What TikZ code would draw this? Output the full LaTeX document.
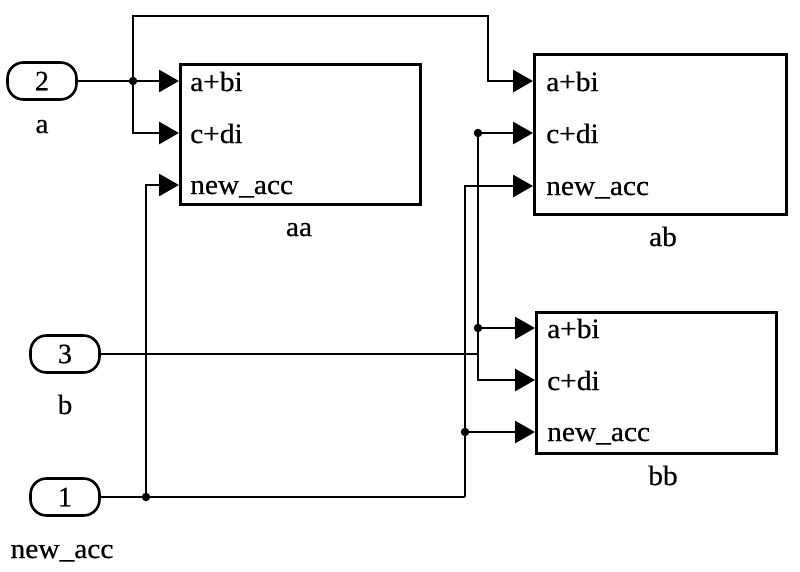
\documentclass[tikz,border=0pt]{standalone}
\usepackage{fontspec}
\setmainfont{Liberation Serif}
\newfontfamily\diagfont{Liberation Serif}[FakeBold=0.5]
\usetikzlibrary{arrows.meta}
\begin{document}
\begin{tikzpicture}[x=1pt,y=-1pt,
  lbl/.style={font=\diagfont\fontsize{28}{33}\selectfont, inner sep=0pt, xscale=1.05},
  block/.style={draw, line width=3pt, anchor=north west, inner sep=0pt},
  inport/.style={draw, line width=2.6pt, rounded corners=16pt, minimum width=69pt, minimum height=37pt, inner sep=0pt, font=\diagfont\fontsize{28}{33}\selectfont},
  wire/.style={line width=2.9pt},
  sig/.style={wire, -{Triangle[length=20pt,width=22pt]}},
  dot/.style={circle, fill, inner sep=0pt, minimum size=8.5pt}
]
\useasboundingbox (0,0) rectangle (800,571);
% blocks
\node[block, minimum width=240pt, minimum height=140pt] (aa) at (179,63) {};
\node[block, minimum width=252pt, minimum height=160pt] (ab) at (533,53) {};
\node[block, minimum width=240pt, minimum height=141pt] (bb) at (535,311) {};
% port coordinates
\coordinate (aa1) at (179,81);
\coordinate (aa2) at (179,133);
\coordinate (aa3) at (179,185);
\coordinate (ab1) at (533,81);
\coordinate (ab2) at (533,133);
\coordinate (ab3) at (533,186);
\coordinate (bb1) at (535,328);
\coordinate (bb2) at (535,380);
\coordinate (bb3) at (535,432);
% port labels
\node[lbl, anchor=base west] (aat1) at (190,91) {a+bi};
\node[lbl, anchor=base west] (aat2) at (190,143) {c+di};
\node[lbl, anchor=base west] (aat3) at (190,194) {new\_acc};
\node[lbl, anchor=base west] (abt1) at (546,91) {a+bi};
\node[lbl, anchor=base west] (abt2) at (546,143) {c+di};
\node[lbl, anchor=base west] (abt3) at (546,195) {new\_acc};
\node[lbl, anchor=base west] (bbt1) at (547,338) {a+bi};
\node[lbl, anchor=base west] (bbt2) at (547,390) {c+di};
\node[lbl, anchor=base west] (bbt3) at (547,441) {new\_acc};
% block names
\node[lbl, anchor=base] (aan) at (299,236) {aa};
\node[lbl, anchor=base] (abn) at (663,246) {ab};
\node[lbl, anchor=base] (bbn) at (663,485) {bb};
% inports
\node[inport] (in2) at (42,81) {2};
\node[inport] (in3) at (65,354) {3};
\node[inport] (in1) at (65,497) {1};
\node[lbl, anchor=base] (in2n) at (42,133) {a};
\node[lbl, anchor=base] (in3n) at (65,414) {b};
\node[lbl, anchor=base] (in1n) at (62,558) {new\_acc};
% junctions
\coordinate (j1) at (133,81);
\coordinate (t2) at (488,16);
\coordinate (j3) at (478,354);
\coordinate (j4) at (478,133);
\coordinate (j5) at (478,328);
\coordinate (j6) at (146,497);
\coordinate (j7) at (465,497);
\coordinate (j8) at (465,432);
% wires from inport 2
\draw[wire] (in2.east) -- (j1);
\draw[sig] (j1) -- (aa1);
\draw[sig] (j1) |- (aa2);
\draw[sig] (j1) |- (t2) |- (ab1);
% wires from inport 3
\draw[wire] (in3.east) -- (j3);
\draw[wire] (j3) -- (j4);
\draw[sig] (j4) -- (ab2);
\draw[sig] (j5) -- (bb1);
\draw[sig] (j3) |- (bb2);
% wires from inport 1
\draw[wire] (in1.east) -- (j7);
\draw[sig] (j6) |- (aa3);
\draw[sig] (j7) |- (ab3);
\draw[sig] (j8) -- (bb3);
% dots
\node[dot] (d1) at (j1) {};
\node[dot] (d4) at (j4) {};
\node[dot] (d5) at (j5) {};
\node[dot] (d6) at (j6) {};
\node[dot] (d8) at (j8) {};
\end{tikzpicture}
\end{document}
